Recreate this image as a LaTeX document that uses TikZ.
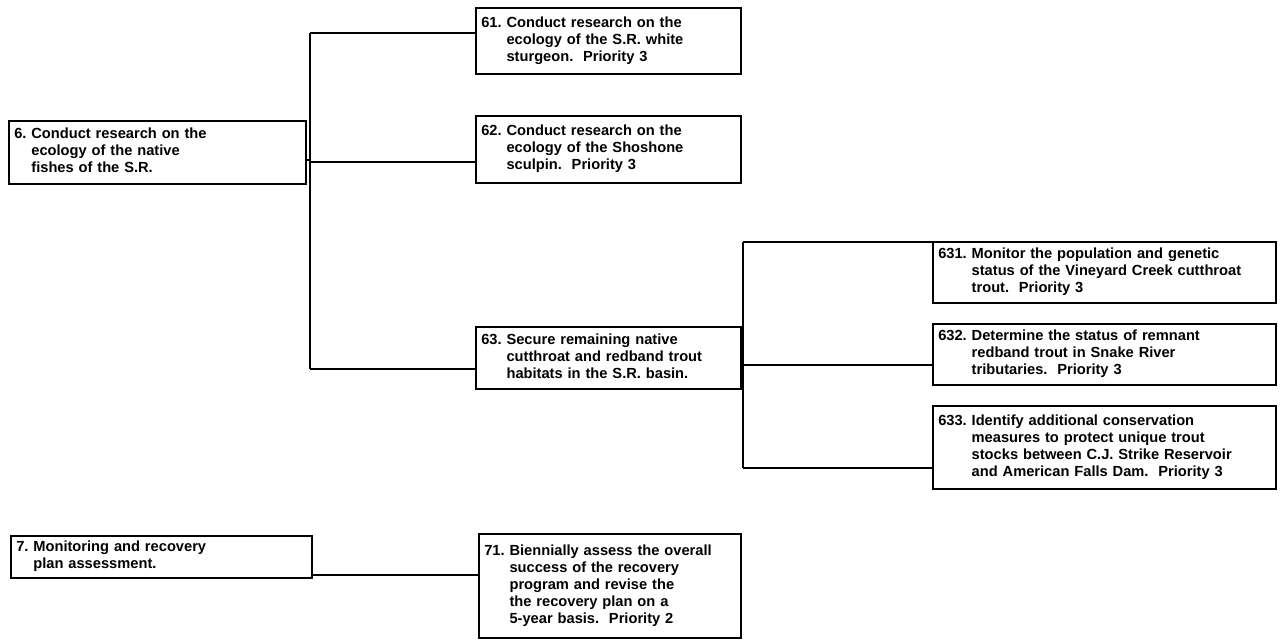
\documentclass[tikz,border=0pt]{standalone}
\usepackage{fontspec}
\setmainfont{Liberation Sans}
\usetikzlibrary{positioning}
\tikzset{
    task/.style 2 args = {rectangle, draw, line width=1.4pt, anchor=north west,
                        inner xsep=4pt, inner ysep=0pt, align=left,
                        minimum height=#2*0.75pt, text width=#1*0.75pt-8pt,
                        font=\bfseries\fontsize{11}{12.75}\selectfont},
    link/.style = {line width=1.4pt}
}
\newcommand{\tasktext}[2]{#1~\begin{tabular}[t]{@{}l@{}}#2\end{tabular}}

\begin{document}
\begin{tikzpicture}[x=0.75pt, y=-0.75pt]
		\useasboundingbox (0,0) rectangle (1283,642);
		\node (t6) [task={297}{63}] at (8,120) {\tasktext{6.}{Conduct research on the\\ecology of the native\\fishes of the S.R.}};
		\node (t61) [task={265}{66}] at (475,7) {\tasktext{61.}{Conduct research on the\\ecology of the S.R. white\\sturgeon.\ \ Priority 3}};
		\node (t62) [task={265}{67}] at (475,115) {\tasktext{62.}{Conduct research on the\\ecology of the Shoshone\\sculpin.\ \ Priority 3}};
		\node (t63) [task={265}{62}] at (475,326) {\tasktext{63.}{Secure remaining native\\cutthroat and redband trout\\habitats in the S.R. basin.}};
		\node (t631) [task={343}{61}] at (932,241) {\tasktext{631.}{Monitor the population and genetic\\status of the Vineyard Creek cutthroat\\trout.\ \ Priority 3}};
		\node (t632) [task={343}{61}] at (932,323) {\tasktext{632.}{Determine the status of remnant\\redband trout in Snake River\\tributaries.\ \ Priority 3}};
		\node (t633) [task={343}{83}] at (932,405) {\tasktext{633.}{Identify additional conservation\\measures to protect unique trout\\stocks between C.J. Strike Reservoir\\and American Falls Dam.\ \ Priority 3}};
		\node (t7) [task={301}{42}] at (10,535) {\tasktext{7.}{Monitoring and recovery\\plan assessment.}};
		\node (t71) [task={262}{104}] at (478,533) {\tasktext{71.}{Biennially assess the overall\\success of the recovery\\program and revise the\\the recovery plan on a\\5-year basis.\ \ Priority 2}};
		% first branch
		\coordinate (j6) at (310,160);
		\coordinate (j61) at (310,33);
		\coordinate (j62) at (310,162);
		\coordinate (j63) at (310,369);
		\draw [link] (t6.east |- j6) -- (j6);
		\draw [link] (j61) -- (j63);
		\draw [link] (j61) -- (t61.west |- j61);
		\draw [link] (j62) -- (t62.west |- j62);
		\draw [link] (j63) -- (t63.west |- j63);
		% second branch
		\coordinate (j631) at (743,242);
		\coordinate (j632) at (743,365);
		\coordinate (j633) at (743,468);
		\draw [link] (t63.east) -- (t63.east -| j631);
		\draw [link] (j631) -- (j633);
		\draw [link] (j631) -- (t631.west |- j631);
		\draw [link] (j632) -- (t632.west |- j632);
		\draw [link] (j633) -- (t633.west |- j633);
		% monitoring
		\coordinate (j7) at (311,575);
		\draw [link] (j7) -- (t71.west |- j7);
	\end{tikzpicture}
\end{document}
